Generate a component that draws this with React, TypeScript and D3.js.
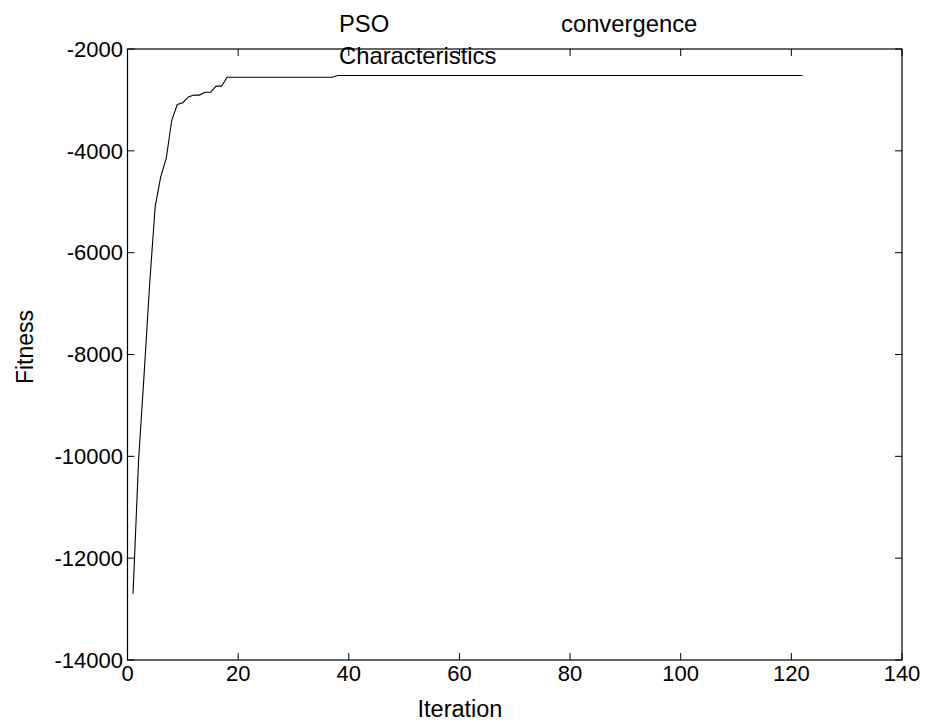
import React from "react";
import * as d3 from "d3";

const earlyIterations = [1, 2, 3, 4, 5, 6, 7, 8, 9, 10, 11, 12, 13, 14, 15, 16, 17];
const earlyFitness = [-12700, -10080, -8390, -6620, -5100, -4510, -4150, -3400, -3090, -3055, -2940, -2905, -2905, -2850, -2850, -2730, -2730];
// plateau values: iterations 18..37 and 38..122
const plateauStarts = [18, 38];
const plateauEnds = [37, 122];
const plateauFitness = [-2556, -2520];

const xTicks = [0, 20, 40, 60, 80, 100, 120, 140];
const yTicks = [-14000, -12000, -10000, -8000, -6000, -4000, -2000];

const W = 929;
const H = 724;
const left = 127.5;
const right = 902;
const top = 49;
const bottom = 660;

export default function App() {
  const x = d3.scaleLinear().domain([0, 140]).range([left, right]);
  const y = d3.scaleLinear().domain([-14000, -2000]).range([bottom, top]);

  const data: [number, number][] = earlyIterations.map((it, i) => [it, earlyFitness[i]]);
  plateauStarts.forEach((s, k) => {
    for (let it = s; it <= plateauEnds[k]; it++) data.push([it, plateauFitness[k]]);
  });

  const line = d3
    .line<[number, number]>()
    .x((d) => x(d[0]))
    .y((d) => y(d[1]));

  const tickLen = 7;
  const font = "'Liberation Sans', Arial, Helvetica, sans-serif";

  return (
    <svg
      width={W}
      height={H}
      style={{ position: "absolute", left: 0, top: 0, background: "#fff" }}
      fontFamily={font}
    >
      <rect x={0} y={0} width={W} height={H} fill="#fff" />
      <path d={line(data) || ""} fill="none" stroke="#000" strokeWidth={1.1} />
      {/* frame */}
      <rect x={left} y={top} width={right - left} height={bottom - top} fill="none" stroke="#000" strokeWidth={1.2} />
      {/* x ticks */}
      {xTicks.map((t) => (
        <g key={"x" + t}>
          <line x1={x(t)} x2={x(t)} y1={bottom} y2={bottom - tickLen} stroke="#000" strokeWidth={1} />
          <line x1={x(t)} x2={x(t)} y1={top} y2={top + tickLen} stroke="#000" strokeWidth={1} />
          <text x={x(t)} y={681} fontSize={22} textAnchor="middle" fill="#000">
            {t}
          </text>
        </g>
      ))}
      {/* y ticks */}
      {yTicks.map((t) => (
        <g key={"y" + t}>
          <line x1={left} x2={left + tickLen} y1={y(t)} y2={y(t)} stroke="#000" strokeWidth={1} />
          <line x1={right} x2={right - tickLen} y1={y(t)} y2={y(t)} stroke="#000" strokeWidth={1} />
          <text x={123} y={y(t)} dy="0.35em" fontSize={22} textAnchor="end" fill="#000">
            {t}
          </text>
        </g>
      ))}
      <text x={460} y={717} fontSize={23.5} textAnchor="middle" fill="#000">
        Iteration
      </text>
      <text
        transform={`translate(33, ${347}) rotate(-90)`}
        fontSize={23}
        textAnchor="middle"
        fill="#000"
      >
        Fitness
      </text>
      <text x={339} y={32} fontSize={23.8} fill="#000">PSO</text>
      <text x={561} y={32} fontSize={23.8} fill="#000">convergence</text>
      <text x={339} y={64} fontSize={23.8} fill="#000">Characteristics</text>
    </svg>
  );
}
